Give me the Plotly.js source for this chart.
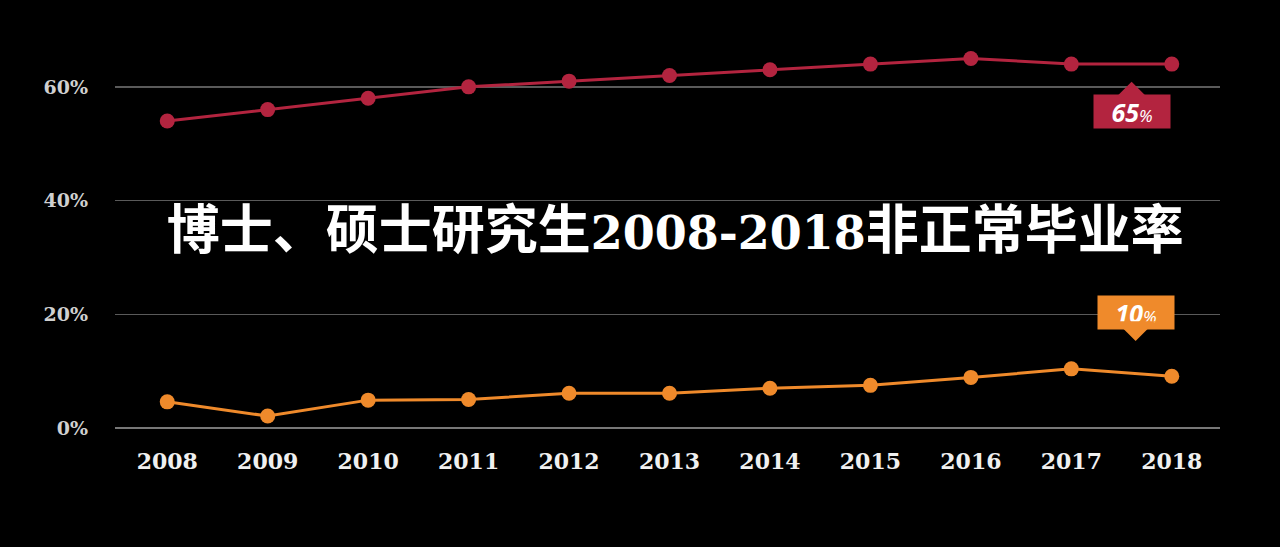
<!DOCTYPE html>
<html>
<head>
<meta charset="utf-8">
<script src="https://cdn.plot.ly/plotly-3.0.1.min.js"></script>
<style>
html,body{margin:0;padding:0;background:#000;}
#chart{width:1280px;height:547px;}
</style>
</head>
<body>
<div id="chart"></div>
<script>
var years = [2008, 2009, 2010, 2011, 2012, 2013, 2014, 2015, 2016, 2017, 2018];
var doctorRate = [54, 56, 58, 60, 61, 62, 63, 64, 65, 64, 64];
var masterRate = [4.6, 2.1, 4.9, 5.0, 6.1, 6.1, 7.0, 7.5, 8.9, 10.4, 9.1];
var yTicks = [0, 20, 40, 60];
var yTickText = ["0%", "20%", "40%", "60%"];
var doctorLabel = "65";
var masterLabel = "10";

var red = "#b3243f";
var orange = "#ef8a2b";

var traces = [
  {
    x: years, y: doctorRate, type: "scatter", mode: "lines+markers",
    line: {color: red, width: 3},
    marker: {color: red, size: 15},
    hoverinfo: "skip"
  },
  {
    x: years, y: masterRate, type: "scatter", mode: "lines+markers",
    line: {color: orange, width: 3},
    marker: {color: orange, size: 15},
    hoverinfo: "skip"
  }
];

var calloutFont = {family: "Noto Sans, DejaVu Sans, sans-serif", color: "#ffffff", size: 25};

var layout = {
  width: 1280, height: 547,
  paper_bgcolor: "#000000", plot_bgcolor: "#000000",
  showlegend: false,
  margin: {l: 115, r: 60, t: 30, b: 119},
  title: {
    text: '<b><span style="font-size:53px">博士、硕士研究生</span><span style="font-size:46px">2008-2018</span><span style="font-size:53px">非正常毕业率</span></b>',
    font: {family: "DejaVu Serif, Noto Sans CJK SC, serif", color: "#ffffff", size: 53},
    x: 0.507, xanchor: "center", xref: "paper",
    y: 0.578, yanchor: "middle", yref: "container"
  },
  xaxis: {
    type: "linear",
    range: [2007.48, 2018.48],
    tickvals: years,
    ticktext: years.map(String),
    showgrid: false, zeroline: false, showline: false,
    ticks: "", ticklabelstandoff: 18,
    tickfont: {family: "DejaVu Serif, serif", size: 22, color: "#f0f0f0", weight: "bold"}
  },
  yaxis: {
    range: [0, 70],
    tickvals: yTicks,
    ticktext: yTickText,
    showgrid: true, gridcolor: "#5a5a5a", gridwidth: 1.5,
    zeroline: true, zerolinecolor: "#777777", zerolinewidth: 1.5,
    showline: false, ticks: "", ticklabelstandoff: 26,
    tickfont: {family: "DejaVu Serif, serif", size: 19, color: "#d0d0d0", weight: "bold"}
  },
  annotations: [
    {
      x: 2017.6, y: 60.9, xref: "x", yref: "y",
      ax: 0, ay: 30, axref: "pixel", ayref: "pixel",
      text: '<b><i>' + doctorLabel + '</i></b><i><span style="font-size:17px">%</span></i>',
      showarrow: true, arrowhead: 1, arrowsize: 2.2, arrowwidth: 3, arrowcolor: red,
      bgcolor: red, borderpad: 3, width: 70, height: 27,
      font: calloutFont
    },
    {
      x: 2017.64, y: 15.3, xref: "x", yref: "y",
      ax: 0, ay: -29, axref: "pixel", ayref: "pixel",
      text: '<b><i>' + masterLabel + '</i></b><i><span style="font-size:17px">%</span></i>',
      showarrow: true, arrowhead: 1, arrowsize: 2.2, arrowwidth: 3, arrowcolor: orange,
      bgcolor: orange, borderpad: 3, width: 70, height: 27,
      font: calloutFont
    }
  ]
};

Plotly.newPlot("chart", traces, layout, {displayModeBar: false, staticPlot: true});
</script>
</body>
</html>
